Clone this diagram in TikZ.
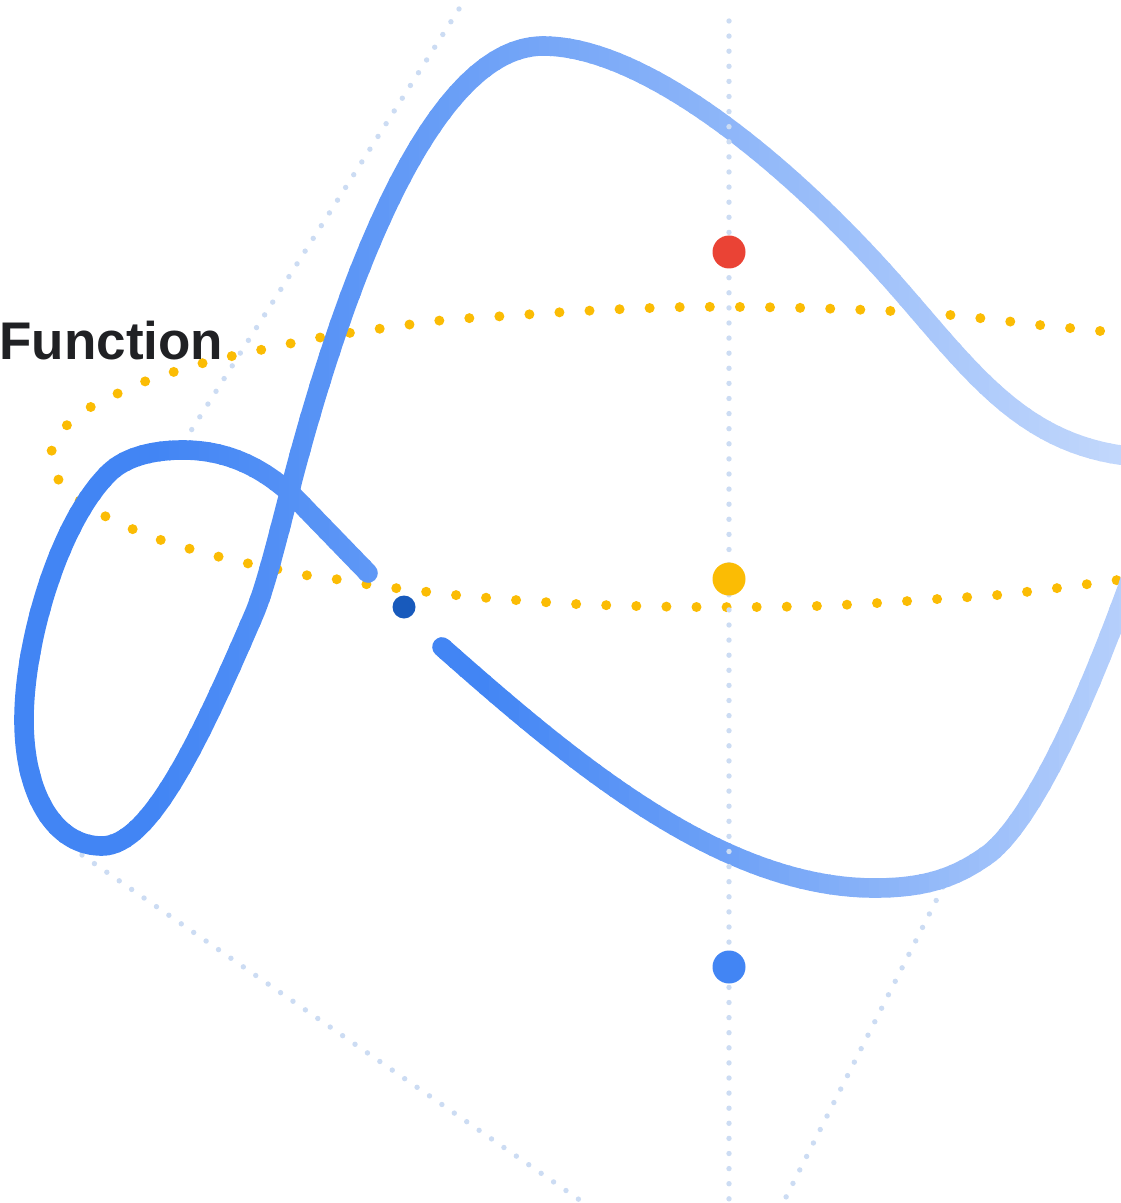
\documentclass[tikz,border=0pt]{standalone}
\usepackage{fontspec}
\setmainfont{Liberation Sans}
\definecolor{gblue}{HTML}{4285F4}
\definecolor{lblue}{HTML}{C6DAFC}
\definecolor{gred}{HTML}{EA4335}
\definecolor{gyellow}{HTML}{FBBC04}
\definecolor{dblue}{HTML}{185ABC}
\definecolor{gridc}{HTML}{CCDCF3}
\definecolor{txtc}{HTML}{202124}
\begin{document}
\begin{tikzpicture}[x=0.5pt,y=-0.5pt,
  gdots/.style={draw=gridc, line width=2.7pt, line cap=round, dash pattern=on 0pt off 7.55pt},
  ydots/.style={draw=gyellow, line width=5pt, line cap=round, dash pattern=on 0pt off 15.05pt},
  bstroke/.style={line width=9.8pt, line cap=round, line join=round},
  bigdot/.style={circle, inner sep=0pt, minimum size=16.5pt},
  smalldot/.style={circle, inner sep=0pt, minimum size=11.5pt}]
\useasboundingbox (0,0) rectangle (1120,1203);

\def\upperpath{(368,573) -- (305,508)
  .. controls (270,470) and (230,450) .. (183,450)
  .. controls (150,450) and (125,458) .. (110,472)
  .. controls (60,520) and (24,640) .. (24,720)
  .. controls (24,795) and (55,846) .. (102,846)
  .. controls (150,846) and (200,740) .. (255,612)
  .. controls (266,585) and (277,540) .. (290,490)
  .. controls (330,335) and (420,46) .. (543,46)
  .. controls (650,46) and (800,175) .. (900,290)
  .. controls (970,370) and (1020,440) .. (1120,455)
  -- (1145,458)}
\def\lowerpath{(442,647)
  .. controls (570,760) and (720,888) .. (875,888)
  .. controls (930,888) and (960,875) .. (990,853)
  .. controls (1030,820) and (1080,720) .. (1132,575)}

% yellow dotted loop
\draw[ydots] plot[smooth, tension=0.5] coordinates {
(1130,334) (1080,329) (1048,326) (988,319) (928,313) (868,310) (807,308) (747,307)
(686,307) (625,309) (565,312) (505,316) (445,320) (385,328) (323,337) (265,349)
(207,362) (149,380) (121,392) (94,405) (69,423) (52,448) (57,477) (76,498)
(103,515) (130,528) (158,539) (187,548) (216,556) (246,563) (276,569) (305,575)
(335,579) (365,584) (395,588) (455,595) (515,600) (575,604) (636,606) (696,607)
(757,607) (817,606) (878,603) (938,599) (998,595) (1058,588) (1118,580) (1130,578)};

% grey dotted diagonals
\coordinate (d1a) at (459,9);   \coordinate (d1b) at (187,437);
\coordinate (d2a) at (82,855);  \coordinate (d2b) at (584,1203);
\coordinate (d3a) at (943,887); \coordinate (d3b) at (783,1203);
\draw[gdots] (d1a) -- (d1b);
\draw[gdots] (d2a) -- (d2b);
\draw[gdots] (d3a) -- (d3b);

% blue curve, upper part (horizontal gradient by strips)
\foreach \i in {0,...,115}{
  \pgfmathsetmacro\xa{\i*10}
  \pgfmathtruncatemacro\pu{max(0,min(100,(\xa+5-150)/(1150-150)*100))}
  \colorlet{cu}{lblue!\pu!gblue}
  \begin{scope}
    \clip (\xa-1,-20) rectangle (\xa+11,1230);
    \draw[bstroke, cu] \upperpath;
  \end{scope}
}
% blue curve, lower part
\foreach \i in {42,...,115}{
  \pgfmathsetmacro\xa{\i*10}
  \pgfmathtruncatemacro\pu{max(0,min(100,(\xa+5-480)/(1210-480)*100))}
  \colorlet{cu}{lblue!\pu!gblue}
  \begin{scope}
    \clip (\xa-1,-20) rectangle (\xa+11,1230);
    \draw[bstroke, cu] \lowerpath;
  \end{scope}
}

% vertical grey dotted line
\coordinate (vtop) at (729,21);
\coordinate (vbot) at (729,1205);
\draw[gdots] (vtop) -- (vbot);

% points
\node[bigdot, fill=gred] (pred) at (729,252) {};
\node[bigdot, fill=gyellow] (pyel) at (729,579) {};
\node[bigdot, fill=gblue] (pblue) at (729,967) {};
\node[smalldot, fill=dblue] (pdark) at (404,607) {};

% label
\node[font=\bfseries\fontsize{26.5pt}{30pt}\selectfont, text=txtc, anchor=base west, inner sep=0pt] (title) at (-1,359) {Function};
\end{tikzpicture}
\end{document}
